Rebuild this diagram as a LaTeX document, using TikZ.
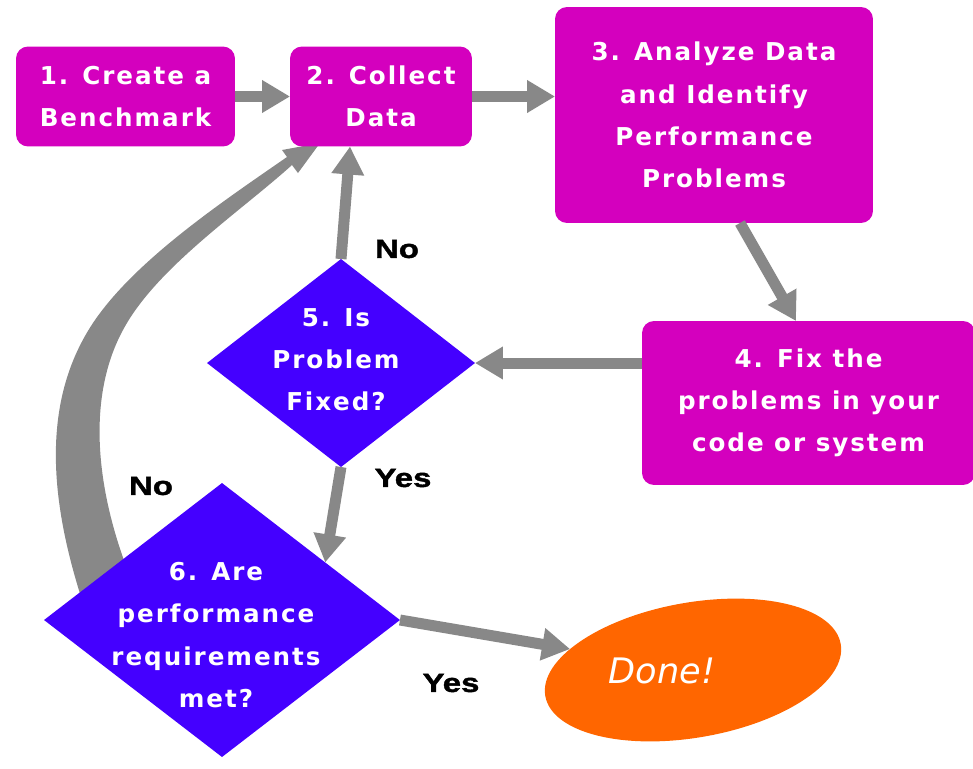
\documentclass[tikz,border=0pt]{standalone}
\usepackage{fontspec}
\usetikzlibrary{arrows.meta,shapes.geometric,calc}

\newfontfamily\boxfont[LetterSpace=8]{DejaVu Sans}
\newfontfamily\answerfont[FakeStretch=1.25,FakeBold=1.5]{Liberation Sans}
\newfontfamily\donefont{DejaVu Sans}

\definecolor{boxmagenta}{RGB}{212,0,190}
\definecolor{decblue}{RGB}{68,0,255}
\definecolor{doneorange}{RGB}{255,102,0}
\definecolor{arrowgray}{RGB}{136,136,136}

\begin{document}
\begin{tikzpicture}[
    x = 0.02cm, y = -0.02cm,
    outer sep = 0mm,
    box/.style = {
      rectangle, rounded corners = 0.24cm, fill = boxmagenta,
      text = white, align = center, inner sep = 0mm,
      font = \boxfont\bfseries\fontsize{14pt}{24pt}\selectfont,
    },
    decision/.style = {
      diamond, fill = decblue, inner sep = 0mm,
    },
    dtext/.style = {
      text = white, align = center, inner sep = 0mm,
      font = \boxfont\bfseries\fontsize{14pt}{24pt}\selectfont,
    },
    finish/.style = {
      ellipse, fill = doneorange, inner sep = 0mm,
    },
    answer/.style = {
      font = \answerfont\bfseries\fontsize{15pt}{17pt}\selectfont,
    },
    flow/.style = {
      draw = arrowgray, line width = 0.22cm,
      -{Triangle[length = 0.56cm, width = 0.62cm]},
    },
  ]

  \useasboundingbox (0,0) rectangle (973,768);

  % back to step 2, drawn first so the lower diamond covers its tail
  \fill[arrowgray] (82,600)
    .. controls (50,500) and (40,400) .. (95,320)
    .. controls (138,258) and (225,200) .. (287,157)
    -- (282,150) -- (320,143) -- (298,173) -- (292,165)
    .. controls (240,212) and (156,268) .. (123,330)
    .. controls (85,400) and (95,500) .. (140,600) -- cycle;

  \node[box, minimum width = 4.38cm, minimum height = 2cm] (bench) at (125.5,96.5)
    {1. Create a\\Benchmark};
  \node[box, minimum width = 3.64cm, minimum height = 2cm] (collect) at (381,96.5)
    {2. Collect\\Data};
  \node[box, minimum width = 6.36cm, minimum height = 4.32cm] (analyze) at (714,115)
    {3. Analyze Data\\and Identify\\Performance\\Problems};
  \node[box, minimum width = 6.66cm, minimum height = 3.28cm] (fix) at (808.5,403)
    {4. Fix the\\problems in your\\code or system};

  \node[decision, minimum width = 5.36cm, minimum height = 4.16cm] (fixed) at (341,363) {};
  \node[dtext] (fixedtext) at (336,360) {5. Is\\Problem\\Fixed?};

  \node[decision, minimum width = 7.12cm, minimum height = 5.48cm] (met) at (222,620) {};
  \node[dtext] (mettext) at (216,635) {6. Are\\performance\\requirements\\met?};

  \node[finish, minimum width = 6cm, minimum height = 2.7cm, rotate = 10] (done) at (693,670) {};
  \node[text = white, font = \donefont\itshape\fontsize{20pt}{22pt}\selectfont] (donetext)
    at (662,671) {Done!};

  \draw[flow] (bench) -- (collect);
  \draw[flow] (collect.east) -- (collect.east -| analyze.west);
  \draw[flow] ([xshift = .52cm]analyze.south) -- ([xshift = -.25cm]fix.north);
  \draw[flow] (fix.west |- fixed.east) -- (fixed.east);
  \draw[flow] (fixed.north) -- ([xshift = -.62cm]collect.south);
  \draw[flow] (fixed.south) -- ($(met.north)!.58!(met.east)$);
  \draw[flow] (met.east) -- (done);

  \node[answer] (nofixed) at (397,249) {No};
  \node[answer] (yesfixed) at (403,478) {Yes};
  \node[answer] (nomet) at (151,486) {No};
  \node[answer] (yesmet) at (451,683) {Yes};

\end{tikzpicture}
\end{document}
